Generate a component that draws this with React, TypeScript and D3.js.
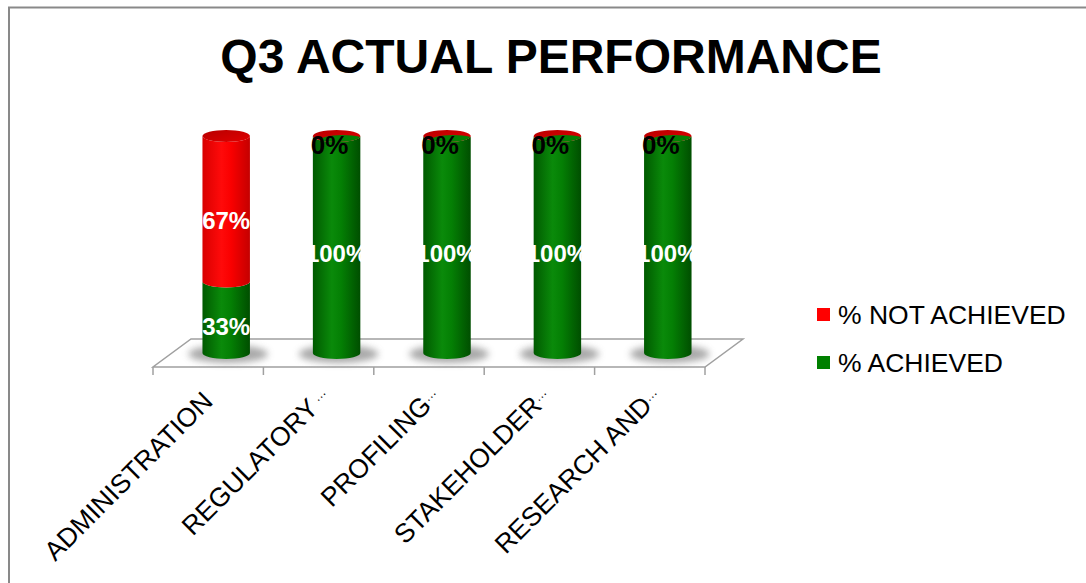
import React from "react";
import * as d3 from "d3";

const categories = ["ADMINISTRATION", "REGULATORY …", "PROFILING…", "STAKEHOLDER…", "RESEARCH AND…"];
const achieved = [0.33, 1, 1, 1, 1];
const notAchieved = [0.67, 0, 0, 0, 0];
const achievedLabels = ["33%", "100%", "100%", "100%", "100%"];
const notAchievedLabels = ["67%", "0%", "0%", "0%", "0%"];
const seriesNames = ["% NOT ACHIEVED", "% ACHIEVED"];
const seriesColors = ["#ff0000", "#008000"];

const W = 1086;
const H = 583;
const FONT = "'Liberation Sans', Arial, sans-serif";

// floor / depth geometry
const floorFront = 367;
const floorBack = 339;
const depthDx = 38;

export default function App() {
  const x = d3.scaleBand<string>().domain(categories).range([153, 705]).padding(0);
  const y = d3.scaleLinear().domain([0, 1]).range([353, 136]);
  const bw = x.bandwidth();
  const r = bw * 0.215; // cylinder radius
  const ry = 6;

  const cx = (c: string) => (x(c) as number) + bw / 2 + depthDx / 2 - 1;

  // side of a cylinder segment between two values
  const bodyPath = (c: string, v0: number, v1: number) => {
    const xc = cx(c);
    const yb = y(v0);
    const yt = y(v1);
    return `M${xc - r},${yt} L${xc - r},${yb} A${r},${ry} 0 0 0 ${xc + r},${yb} L${xc + r},${yt} A${r},${ry} 0 0 1 ${xc - r},${yt} Z`;
  };

  const ticks = d3.range(categories.length + 1).map((i) => 153 + i * bw);

  return (
    <svg
      width={W}
      height={H}
      style={{ position: "absolute", left: 0, top: 0, background: "#fff" }}
    >
      <defs>
        <linearGradient id="gGreen" x1="0" x2="1" y1="0" y2="0">
          <stop offset="0%" stopColor="#005a00" />
          <stop offset="40%" stopColor="#0a8a0a" />
          <stop offset="60%" stopColor="#047f04" />
          <stop offset="100%" stopColor="#004e00" />
        </linearGradient>
        <linearGradient id="gRed" x1="0" x2="1" y1="0" y2="0">
          <stop offset="0%" stopColor="#d80000" />
          <stop offset="40%" stopColor="#ff0a0a" />
          <stop offset="60%" stopColor="#fa0000" />
          <stop offset="100%" stopColor="#c40000" />
        </linearGradient>
        <linearGradient id="gRedTop" x1="0" x2="1" y1="0" y2="1">
          <stop offset="0%" stopColor="#b80000" />
          <stop offset="100%" stopColor="#e00000" />
        </linearGradient>
        <filter id="blur" x="-50%" y="-50%" width="200%" height="200%">
          <feGaussianBlur stdDeviation="3.5" />
        </filter>
        {categories.map((c, i) => (
          <clipPath id={`top${i}`} key={c}>
            <ellipse cx={cx(c)} cy={y(1)} rx={r} ry={ry} />
          </clipPath>
        ))}
      </defs>

      {/* border */}
      <path d={`M9,${H} L9,7.5 L${W},7.5`} fill="none" stroke="#898989" strokeWidth={2} />

      {/* title */}
      <text x={551} y={73} textAnchor="middle" fontFamily={FONT} fontWeight="bold" fontSize={48}>
        Q3 ACTUAL PERFORMANCE
      </text>

      {/* floor */}
      <path
        d={`M${ticks[0]},${floorFront} L${ticks[ticks.length - 1]},${floorFront} L${ticks[ticks.length - 1] + depthDx},${floorBack} L${ticks[0] + depthDx},${floorBack} Z`}
        fill="#fff"
        stroke="#a0a0a0"
        strokeWidth={1.5}
      />
      {ticks.map((t) => (
        <line key={t} x1={t} x2={t} y1={floorFront} y2={floorFront + 8} stroke="#a0a0a0" strokeWidth={1.5} />
      ))}

      {/* shadows */}
      {categories.map((c) => (
        <ellipse key={c} cx={cx(c) + 2} cy={y(0) + 1} rx={r + 16} ry={9} fill="#8c8c8c" opacity={0.75} filter="url(#blur)" />
      ))}

      {/* cylinders */}
      {categories.map((c, i) => {
        const a = achieved[i];
        const n = notAchieved[i];
        return (
          <g key={c}>
            <path d={bodyPath(c, 0, a)} fill="url(#gGreen)" />
            {n > 0 && <path d={bodyPath(c, a, a + n)} fill="url(#gRed)" />}
            <ellipse cx={cx(c)} cy={y(a + n)} rx={r} ry={ry} fill="url(#gRedTop)" />
            {n === 0 && (
              <g clipPath={`url(#top${i})`}>
                <ellipse cx={cx(c) + 6} cy={y(a) + 5} rx={r} ry={ry} fill="#047f04" />
              </g>
            )}
          </g>
        );
      })}

      {/* data labels */}
      {categories.map((c, i) => {
        const a = achieved[i];
        const n = notAchieved[i];
        return (
          <g key={c} fontFamily={FONT} fontWeight="bold" fontSize={24}>
            <text x={cx(c)} y={(y(0) + y(a)) / 2 + 9} textAnchor="middle" dominantBaseline="central" fill="#fff">
              {achievedLabels[i]}
            </text>
            {n > 0 ? (
              <text x={cx(c)} y={(y(a) + y(a + n)) / 2 + 12} textAnchor="middle" dominantBaseline="central" fill="#fff">
                {notAchievedLabels[i]}
              </text>
            ) : (
              <text x={cx(c) - 7} y={y(a) + 9} textAnchor="middle" dominantBaseline="central" fill="#000" fontSize={26}>
                {notAchievedLabels[i]}
              </text>
            )}
          </g>
        );
      })}

      {/* category labels, truncated ones end in a small ellipsis */}
      {categories.map((c) => {
        const cut = c.endsWith("…");
        const lx = (x(c) as number) + bw / 2 + 6 + (cut ? 7 : 0);
        const ly = 403 - (cut ? 5 : 0);
        const main = cut ? c.replace(/\s*…$/, "") : c;
        return (
          <text
            key={c}
            transform={`translate(${lx},${ly}) rotate(-45)`}
            textAnchor="end"
            fontFamily={FONT}
            fontSize={26.5}
            fill="#000"
          >
            {main}
            {cut && (
              <tspan fontSize={13} dy={-7}>
                {c.includes(" …") ? " …" : "…"}
              </tspan>
            )}
          </text>
        );
      })}

      {/* legend */}
      {seriesNames.map((s, i) => (
        <g key={s} transform={`translate(817,${308 + i * 48})`}>
          <rect width={13} height={13} fill={seriesColors[i]} />
          <text x={21} y={15.5} fontFamily={FONT} fontSize={26.5} fill="#000">
            {s}
          </text>
        </g>
      ))}
    </svg>
  );
}
